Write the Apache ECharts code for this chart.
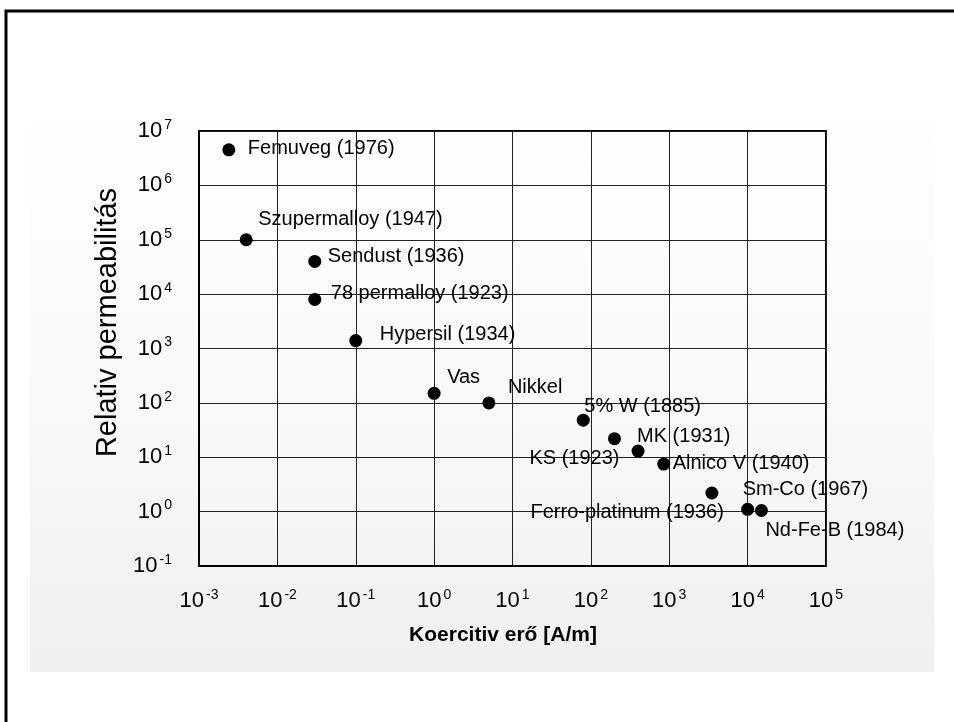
<!DOCTYPE html>
<html>
<head>
<meta charset="utf-8">
<script src="https://cdn.jsdelivr.net/npm/echarts@6/dist/echarts.min.js"></script>
<style>
html,body{margin:0;padding:0;background:#fff;}
#chart{width:954px;height:722px;}
</style>
</head>
<body>
<div id="chart"></div>
<script>
// ---- data ----
const materials = ['Femuveg (1976)', 'Szupermalloy (1947)', 'Sendust (1936)', '78 permalloy (1923)',
  'Hypersil (1934)', 'Vas', 'Nikkel', '5% W (1885)', 'KS (1923)', 'MK (1931)',
  'Alnico V (1940)', 'Ferro-platinum (1936)', 'Sm-Co (1967)', 'Nd-Fe-B (1984)'];
const coercivity = [0.0024, 0.004, 0.03, 0.03, 0.1, 1, 5, 80, 200, 400, 850, 3500, 10000, 15000];
const permeability = [4.5e6, 1e5, 4e4, 8e3, 1.4e3, 150, 100, 48, 22, 13, 7.5, 2.2, 1.1, 1.05];
const xTicks = [-3, -2, -1, 0, 1, 2, 3, 4, 5];
const yTicks = [-1, 0, 1, 2, 3, 4, 5, 6, 7];
const xTitle = 'Koercitiv erő [A/m]';
const yTitle = 'Relativ permeabilitás';

// ---- label layout (offsets from point centre) ----
const labelLayout = [
  {align: 'left', dx: 19, dy: -1},
  {align: 'left', dx: 12, dy: -20},
  {align: 'left', dx: 13, dy: -5},
  {align: 'left', dx: 16, dy: -6},
  {align: 'left', dx: 24, dy: -6},
  {align: 'left', dx: 13, dy: -16},
  {align: 'left', dx: 19, dy: -15},
  {align: 'left', dx: 1, dy: -14},
  {align: 'right', dx: 5, dy: 20},
  {align: 'left', dx: -1, dy: -15},
  {align: 'left', dx: 9, dy: -1},
  {align: 'right', dx: 12, dy: 19},
  {align: 'left', dx: -5, dy: -20},
  {align: 'left', dx: 4, dy: 20}
];

const FONT = '"Liberation Sans", Arial, Helvetica, sans-serif';
const SYM = 13;

function powLabel(v) {
  const e = Math.round(Math.log10(v));
  return '{b|10}{s|' + e + '}';
}
const tickRich = {
  b: {fontSize: 22, fontFamily: FONT, color: '#000'},
  s: {fontSize: 14, fontFamily: FONT, color: '#000', verticalAlign: 'top', padding: [0, 0, 12, 2]}
};

const points = materials.map((n, i) => ({
  name: n,
  value: [coercivity[i], permeability[i]],
  label: {
    show: true,
    position: [SYM / 2 + labelLayout[i].dx, SYM / 2 + labelLayout[i].dy],
    align: labelLayout[i].align,
    verticalAlign: 'middle',
    formatter: n,
    color: '#000',
    textBorderWidth: 0,
    fontSize: 20,
    fontFamily: FONT
  }
}));

const chart = echarts.init(document.getElementById('chart'), null, {renderer: 'canvas'});
chart.setOption({
  animation: false,
  backgroundColor: '#ffffff',
  graphic: [
    {
      type: 'rect', z: -10, silent: true,
      shape: {x: 30, y: 90, width: 904, height: 582},
      style: {
        fill: new echarts.graphic.LinearGradient(0, 0, 0, 1, [
          {offset: 0, color: '#ffffff'},
          {offset: 0.6, color: '#f8f8f8'},
          {offset: 1, color: '#efefef'}
        ])
      }
    },
    {
      type: 'rect', z: 100, silent: true,
      shape: {x: 6, y: 11, width: 1000, height: 800},
      style: {fill: 'none', stroke: '#000', lineWidth: 3}
    }
  ],
  grid: {
    left: 199, right: 128, top: 131, bottom: 156,
    show: true, borderColor: '#000', borderWidth: 2, backgroundColor: 'transparent'
  },
  xAxis: {
    type: 'log', logBase: 10,
    min: Math.pow(10, xTicks[0]), max: Math.pow(10, xTicks[xTicks.length - 1]),
    splitNumber: xTicks.length - 1,
    axisLine: {show: true, lineStyle: {color: '#000', width: 2}},
    axisTick: {show: false},
    splitLine: {show: true, lineStyle: {color: '#222', width: 1}},
    minorTick: {show: false}, minorSplitLine: {show: false},
    axisLabel: {margin: 22, formatter: powLabel, rich: tickRich},
    name: xTitle, nameLocation: 'middle', nameGap: 59,
    nameTextStyle: {fontSize: 21, fontWeight: 'bold', fontFamily: FONT, color: '#000', padding: [0, 19, 0, 0]}
  },
  yAxis: {
    type: 'log', logBase: 10,
    min: Math.pow(10, yTicks[0]), max: Math.pow(10, yTicks[yTicks.length - 1]),
    splitNumber: yTicks.length - 1,
    axisLine: {show: true, lineStyle: {color: '#000', width: 2}},
    axisTick: {show: false},
    splitLine: {show: true, lineStyle: {color: '#222', width: 1}},
    minorTick: {show: false}, minorSplitLine: {show: false},
    axisLabel: {margin: 27, formatter: powLabel, rich: tickRich},
    name: yTitle, nameLocation: 'middle', nameGap: 76, nameRotate: 90,
    nameTextStyle: {fontSize: 29, fontFamily: FONT, color: '#000', padding: [0, 0, 0, 52]}
  },
  series: [{
    type: 'scatter',
    symbol: 'circle',
    symbolSize: SYM,
    itemStyle: {color: '#000', opacity: 1},
    data: points,
    z: 5
  }]
});
</script>
</body>
</html>
